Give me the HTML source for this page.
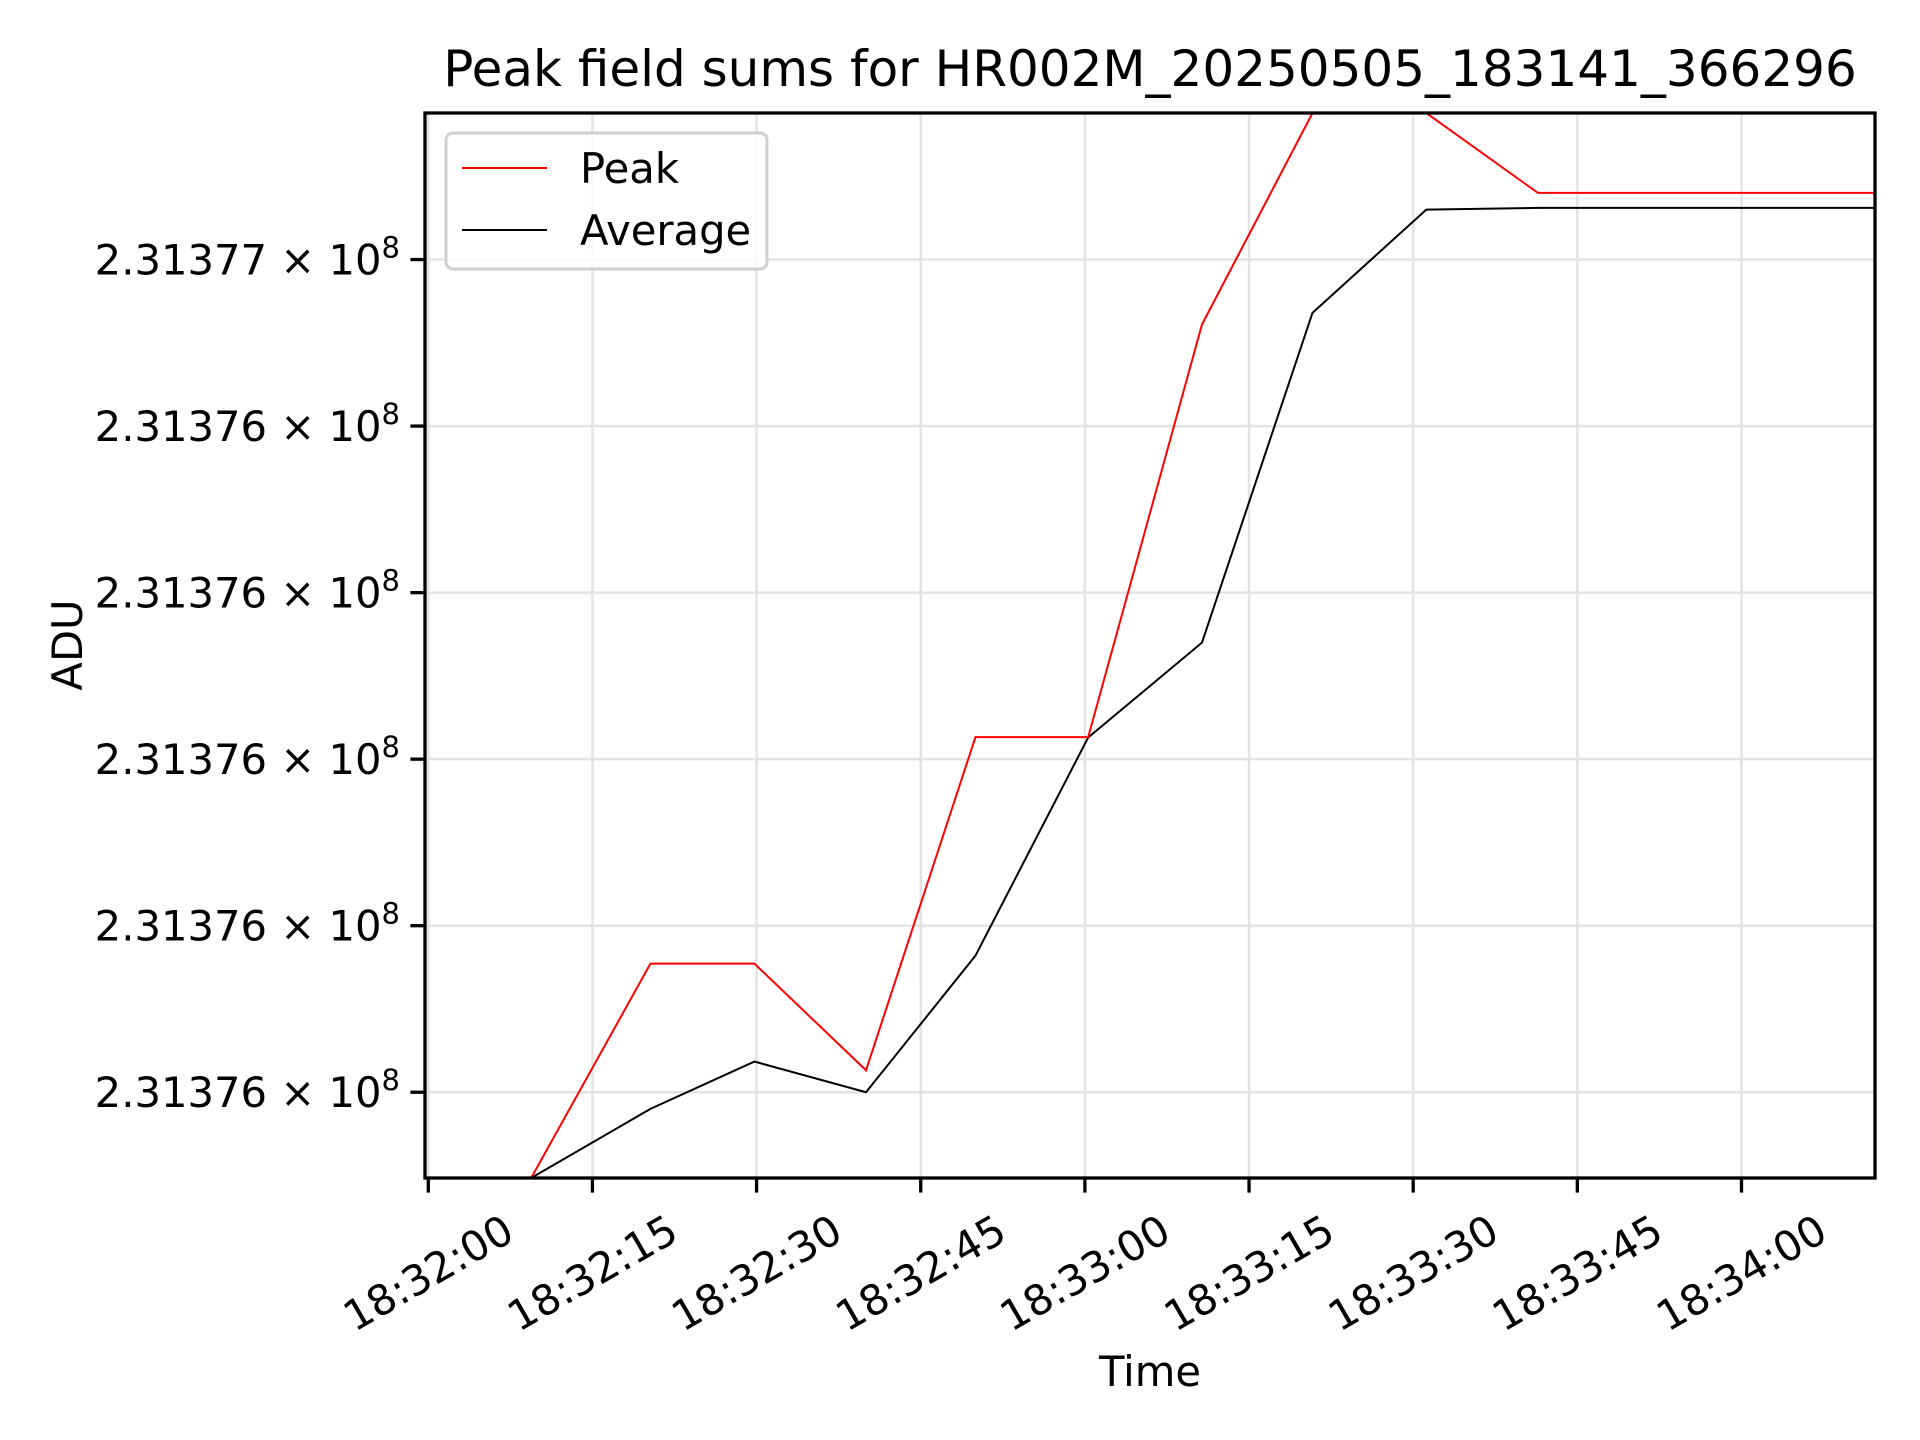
<!DOCTYPE html>
<html><head><meta charset="utf-8"><style>
html,body{margin:0;padding:0;background:#fff;}
svg{display:block;font-family:"DejaVu Sans","Liberation Sans",sans-serif;}
</style></head><body>
<svg id="chart" width="1920" height="1440" viewBox="0 0 1920 1440" xmlns="http://www.w3.org/2000/svg">
<rect width="1920" height="1440" fill="#fff"/>
<g id="grid"></g>
<g id="series"></g>
<rect x="425" y="113" width="1450" height="1065" fill="none" stroke="#000" stroke-width="3.3"/>
<g id="xticks"></g>
<g id="yticks"></g>
<text x="1150" y="86" font-size="50" text-anchor="middle">Peak field sums for HR002M_20250505_183141_366296</text>
<text x="1150" y="1386" font-size="41.7" text-anchor="middle">Time</text>
<text transform="translate(82,645) rotate(-90)" font-size="41.7" text-anchor="middle">ADU</text>
<g>
<rect x="446" y="133" width="321" height="136" rx="7" fill="#fff" fill-opacity="0.8" stroke="#d0d0d0" stroke-width="3"/>
<line x1="462" y1="168" x2="547" y2="168" stroke="#f00" stroke-width="2"/>
<text x="580" y="183" font-size="41.7">Peak</text>
<line x1="462" y1="230" x2="547" y2="230" stroke="#000" stroke-width="2"/>
<text x="580" y="245" font-size="41.7">Average</text>
</g>
</svg>
<script>
// seconds after 18:32:00
const times = [-0.3, 9.4, 20.3, 29.8, 40.0, 50.0, 60.3, 70.7, 80.8, 91.2, 101.4, 111.6, 121.9, 132.2];
const peakValues = [-0.515, -0.515, 0.772, 0.772, 0.132, 2.132, 2.132, 4.61, 5.88, 5.88, 5.40, 5.40, 5.40, 5.40];
const avgValues = [-0.515, -0.515, -0.10, 0.184, 0.0, 0.82, 2.13, 2.70, 4.68, 5.30, 5.31, 5.31, 5.31, 5.31];
const xTickSeconds = [0, 15, 30, 45, 60, 75, 90, 105, 120];
const xTickLabels = ["18:32:00","18:32:15","18:32:30","18:32:45","18:33:00","18:33:15","18:33:30","18:33:45","18:34:00"];
const yTickValues = [0, 1, 2, 3, 4, 5];
const yTickLabels = ["2.31376","2.31376","2.31376","2.31376","2.31376","2.31377"];

const NS = "http://www.w3.org/2000/svg";
const L = 425, R = 1875, T = 113, B = 1178;
const xMin = -0.3, xMax = 132.2, yMin = -0.515, yMax = 5.88;
const xs = s => L + (s - xMin) / (xMax - xMin) * (R - L);
const ys = v => B - (v - yMin) / (yMax - yMin) * (B - T);
function mk(tag, attrs, parent) { const e = document.createElementNS(NS, tag); for (const k in attrs) e.setAttribute(k, attrs[k]); parent.appendChild(e); return e; }

const grid = document.getElementById('grid');
const xt = document.getElementById('xticks');
const yt = document.getElementById('yticks');
xTickSeconds.forEach((s, i) => {
  const x = xs(s);
  const g = mk('line', {x1: x, y1: T, x2: x, y2: B, stroke: '#e3e3e3', 'stroke-width': 2.5}, grid);
  
  
  const t = mk('line', {x1: x, y1: B, x2: x, y2: B + 14.6, stroke: '#000', 'stroke-width': 3.3}, xt);
  
  
  const tx = mk('text', {transform: `translate(${x},1273) rotate(-30)`, 'font-size': 41.7, 'text-anchor': 'middle', 'dominant-baseline': 'central'}, xt);
  tx.textContent = xTickLabels[i];
  
  
});
yTickValues.forEach((v, i) => {
  const y = ys(v);
  const g = mk('line', {x1: L, y1: y, x2: R, y2: y, stroke: '#e3e3e3', 'stroke-width': 2.5}, grid);
  
  
  const t = mk('line', {x1: L - 14.6, y1: y, x2: L, y2: y, stroke: '#000', 'stroke-width': 3.3}, yt);
  
  
  const tx = mk('text', {x: 400, y: y + 15, 'font-size': 41.7, 'text-anchor': 'end'}, yt);
  
  
  const a = document.createElementNS(NS, 'tspan'); a.textContent = yTickLabels[i] + ' \u00d7 10'; tx.appendChild(a);
  const b = document.createElementNS(NS, 'tspan'); b.setAttribute('dy', '-17'); b.setAttribute('font-size', '29'); b.textContent = '8'; tx.appendChild(b);
});
const ser = document.getElementById('series');
const clip = mk('clipPath', {id: 'pc'}, ser);
mk('rect', {x: L, y: T, width: R - L, height: B - T}, clip);
const avg = mk('polyline', {points: times.map((s, i) => xs(s) + ',' + ys(avgValues[i])).join(' '), fill: 'none', stroke: '#000', 'stroke-width': 2, 'clip-path': 'url(#pc)'}, ser);


const pk = mk('polyline', {points: times.map((s, i) => xs(s) + ',' + ys(peakValues[i])).join(' '), fill: 'none', stroke: '#f00', 'stroke-width': 2, 'clip-path': 'url(#pc)'}, ser);


</script>
</body></html>
